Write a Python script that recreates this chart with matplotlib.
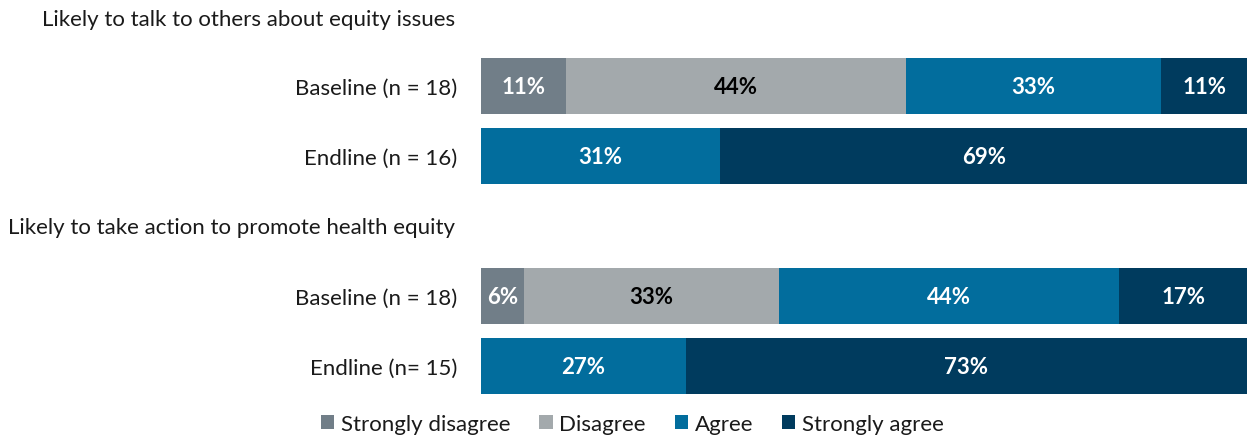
import matplotlib
matplotlib.use("Agg")
import matplotlib.pyplot as plt
from matplotlib.patches import Patch

plt.rcParams['font.family'] = ['Lato', 'DejaVu Sans']

# response shares (%) for each question, baseline then endline
responses = ["Strongly disagree", "Disagree", "Agree", "Strongly agree"]
colors = ["#717e88", "#a3a9ac", "#026d9d", "#003b5e"]
label_colors = ["white", "black", "white", "white"]

q1_title = "Likely to talk to others about equity issues"
q1_rows = ["Baseline (n = 18)", "Endline (n = 16)"]
q1_baseline = [11.1, 44.4, 33.3, 11.2]
q1_endline = [0, 0, 31.25, 68.75]

q2_title = "Likely to take action to promote health equity"
q2_rows = ["Baseline (n = 18)", "Endline (n= 15)"]
q2_baseline = [5.6, 33.3, 44.4, 16.7]
q2_endline = [0, 0, 26.7, 73.3]

rows = q1_rows + q2_rows
data = [q1_baseline, q1_endline, q2_baseline, q2_endline]
ypos = [0, 1, 3, 4]

FS = 16
W, H = 1247, 439
fig = plt.figure(figsize=(W / 100, H / 100), dpi=100)
ax = fig.add_axes([481 / W, 0, 1 - 481 / W, 1])

for y, vals in zip(ypos, data):
    left = 0
    for k, v in enumerate(vals):
        if v > 0:
            ax.barh(y, v, left=left, height=0.8, color=colors[k],
                    edgecolor="none")
            ax.text(left + v / 2, y, f"{v:.0f}%", ha="center", va="center",
                    color=label_colors[k], fontsize=FS, fontweight="bold")
        left += v

ax.set_xlim(0, 100)
ax.set_ylim((H - 87) / 70, -87 / 70)
ax.set_yticks(ypos)
ax.set_yticklabels(rows, fontsize=FS, color="#1a1a1a")
ax.tick_params(axis="y", length=0, pad=17)
ax.set_xticks([])
for s in ax.spines.values():
    s.set_visible(False)

fig.text(42 / W, 1 - 20 / H, q1_title, fontsize=FS, color="#1a1a1a",
         va="center", ha="left")
fig.text(8 / W, 1 - 228 / H, q2_title, fontsize=FS, color="#1a1a1a",
         va="center", ha="left")

handles = [Patch(facecolor=c, edgecolor="none") for c in colors]
fig.legend(handles, responses, loc="center",
           bbox_to_anchor=((325 + 940) / 2 / W, 1 - 425 / H), ncol=4,
           frameon=False, fontsize=FS, handlelength=0.6, handleheight=0.6,
           handletextpad=0.3, columnspacing=1.3, labelcolor="#1a1a1a")

fig.savefig("out.png", dpi=100)
